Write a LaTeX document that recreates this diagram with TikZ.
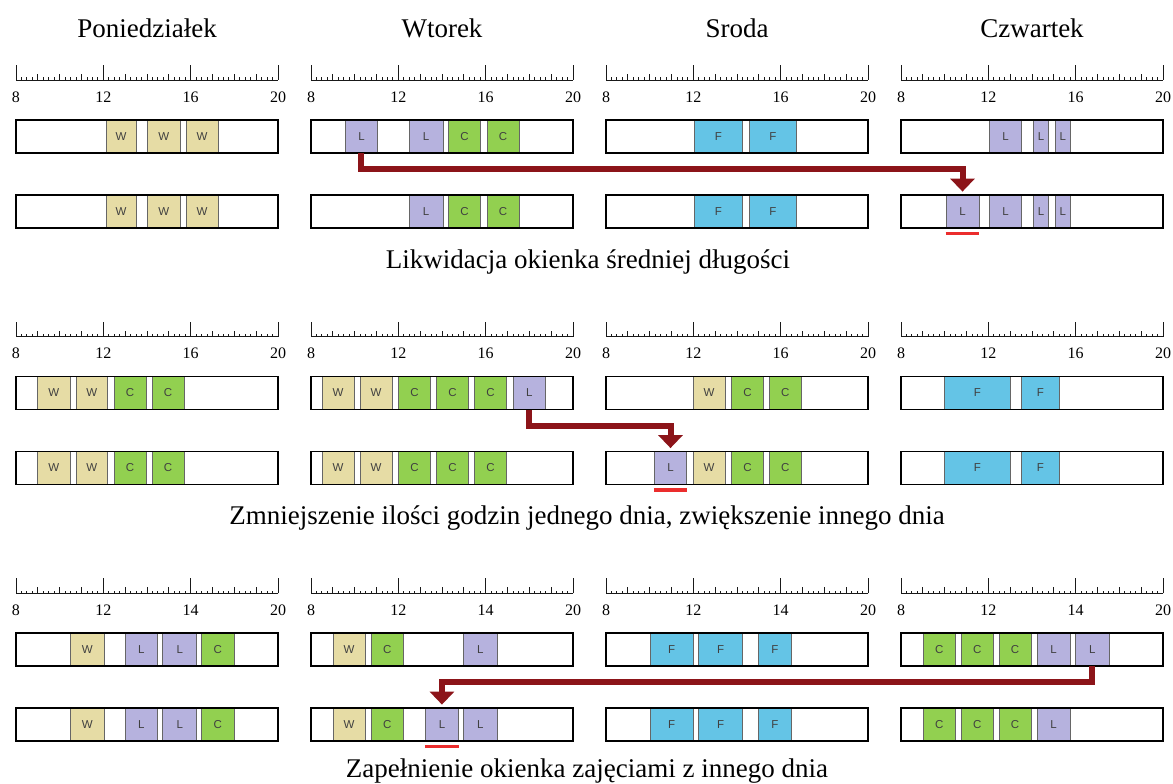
\documentclass[tikz,border=0pt]{standalone}
\usepackage{fontspec}
\setmainfont{Liberation Serif}
\setsansfont{Liberation Sans}
\usetikzlibrary{arrows.meta}
\definecolor{colW}{RGB}{230,220,165}
\definecolor{colL}{RGB}{182,178,222}
\definecolor{colC}{RGB}{146,208,80}
\definecolor{colF}{RGB}{100,196,230}
\definecolor{arrowred}{RGB}{140,20,25}
\definecolor{barred}{RGB}{235,45,45}
\tikzset{
  blk/.style={draw=black!60, line width=0.8pt, inner sep=0pt, minimum height=33pt,
    font=\sffamily\fontsize{11.5}{11.5}\selectfont, text=black!75},
  rowbox/.style={draw=black, line width=1.3pt},
  rul/.style={draw=black!90, line width=0.9pt},
  conn/.style={draw=arrowred, line width=6pt, -{Triangle[width=24pt,length=13pt]}, shorten >=3pt},
  underl/.style={draw=barred, line width=3.5pt},
  daytitle/.style={font=\fontsize{27}{30}\selectfont, anchor=base, inner sep=0pt},
  capt/.style={font=\fontsize{27}{30}\selectfont, anchor=base, inner sep=0pt},
  tlab/.style={font=\fontsize{16}{16}\selectfont, inner sep=0pt}
}
% #1 name prefix, #2 panel left, #3 row top, #4 list x1/x2/letter
\newcommand\drawrow[4]{%
  \foreach \xa/\xb/\lt [count=\k] in {#4} {
    \node[blk, fill=col\lt, minimum width={\xb-\xa}] (#1-\k) at ({#2+(\xa+\xb)/2},{#3+16.5}) {\lt};
  }
  \draw[rowbox] (#2,#3) rectangle ++(262,33);
}
% #1 name prefix, #2 left, #3 baseline, #4 third label
\newcommand\drawruler[4]{%
  \draw[rul] (#2,#3) -- ++(262,0);
  \foreach \i in {0,...,48} \draw[rul] ({#2+\i*262/48},#3) -- ++(0,-2.5);
  \foreach \i in {0,...,12} \draw[rul] ({#2+\i*262/12},#3) -- ++(0,-6);
  \foreach \i in {0,4,8,12} \draw[rul] ({#2+\i*262/12},#3) -- ++(0,-15);
  \node[tlab] (#1-l1) at (#2,#3+17) {8};
  \node[tlab] (#1-l2) at ({#2+4*262/12},#3+17) {12};
  \node[tlab] (#1-l3) at ({#2+8*262/12},#3+17) {#4};
  \node[tlab] (#1-l4) at ({#2+262},#3+17) {20};
}
\begin{document}
\begin{tikzpicture}[x=1pt,y=-1pt]
\fill[white] (0,0) rectangle (1173,784);
\useasboundingbox (0,0) rectangle (1173,784);

% day titles
\node[daytitle] (t1) at (147,38) {Poniedziałek};
\node[daytitle] (t2) at (442,38) {Wtorek};
\node[daytitle] (t3) at (737,38) {Sroda};
\node[daytitle] (t4) at (1032,38) {Czwartek};

% ===== Section 1 =====
\drawruler{s1ra}{16}{80}{16}
\drawruler{s1rb}{311}{80}{16}
\drawruler{s1rc}{606}{80}{16}
\drawruler{s1rd}{901}{80}{16}

\drawrow{s1a-r1}{16}{120}{90/120/W, 131.7/164/W, 170/202.3/W}
\drawrow{s1a-r2}{16}{195}{90/120/W, 131.7/164/W, 170/202.3/W}
\drawrow{s1b-r1}{311}{120}{34.3/66.6/L, 98.3/132/L, 137.6/169.3/C, 176/208/C}
\drawrow{s1b-r2}{311}{195}{98.3/132/L, 137.6/169.3/C, 176/208/C}
\drawrow{s1c-r1}{606}{120}{88.3/136.7/F, 143/190.7/F}
\drawrow{s1c-r2}{606}{195}{88.3/136.7/F, 143/190.7/F}
\drawrow{s1d-r1}{901}{120}{88.6/120.3/L, 132.6/147.6/L, 154.3/169.3/L}
\drawrow{s1d-r2}{901}{195}{45/78/L, 88.6/120.3/L, 132.6/147.6/L, 154.3/169.3/L}

\draw[conn] (s1b-r1-1.south) -- ([yshift=-16pt]s1b-r1-1.south) -| (s1d-r2-1.north);
\draw[underl] ([yshift=-5pt]s1d-r2-1.south west) -- ([yshift=-5pt]s1d-r2-1.south east);
\node[capt] (c1) at (588,268) {Likwidacja okienka średniej długości};

% ===== Section 2 =====
\drawruler{s2ra}{16}{336.5}{16}
\drawruler{s2rb}{311}{336.5}{16}
\drawruler{s2rc}{606}{336.5}{16}
\drawruler{s2rd}{901}{336.5}{16}

\drawrow{s2a-r1}{16}{376.5}{21.7/54/W, 60/91.7/W, 98.3/130/C, 136.3/168/C}
\drawrow{s2a-r2}{16}{451.5}{21.7/54/W, 60/91.7/W, 98.3/130/C, 136.3/168/C}
\drawrow{s2b-r1}{311}{376.5}{11/43.3/W, 49.3/81/W, 87.6/119.3/C, 125.3/157.6/C, 163.6/195.3/C, 202/234.6/L}
\drawrow{s2b-r2}{311}{451.5}{11/43.3/W, 49.3/81/W, 87.6/119.3/C, 125.3/157.6/C, 163.6/195.3/C}
\drawrow{s2c-r1}{606}{376.5}{87.3/119/W, 125.7/157.3/C, 163.3/195/C}
\drawrow{s2c-r2}{606}{451.5}{48.3/80.7/L, 87.3/119/W, 125.7/157.3/C, 163.3/195/C}
\drawrow{s2d-r1}{901}{376.5}{43.6/109.3/F, 120.3/158.6/F}
\drawrow{s2d-r2}{901}{451.5}{43.6/109.3/F, 120.3/158.6/F}

\draw[conn] (s2b-r1-6.south) -- ([yshift=-16pt]s2b-r1-6.south) -| (s2c-r2-1.north);
\draw[underl] ([yshift=-5pt]s2c-r2-1.south west) -- ([yshift=-5pt]s2c-r2-1.south east);
\node[capt] (c2) at (587,524.5) {Zmniejszenie ilości godzin jednego dnia, zwiększenie innego dnia};

% ===== Section 3 =====
\drawruler{s3ra}{16}{593}{14}
\drawruler{s3rb}{311}{593}{14}
\drawruler{s3rc}{606}{593}{14}
\drawruler{s3rd}{901}{593}{14}

\drawrow{s3a-r1}{16}{633}{54.7/88/W, 109/141.7/L, 146.7/180.7/L, 185/218.3/C}
\drawrow{s3a-r2}{16}{708}{54.7/88/W, 109/141.7/L, 146.7/180.7/L, 185/218.3/C}
\drawrow{s3b-r1}{311}{633}{22/54.3/W, 60.3/92/C, 152.6/186/L}
\drawrow{s3b-r2}{311}{708}{22/54.3/W, 60.3/92/C, 114.3/147.6/L, 152.6/186/L}
\drawrow{s3c-r1}{606}{633}{44/87.3/F, 92.7/136.7/F, 152.7/185/F}
\drawrow{s3c-r2}{606}{708}{44/87.3/F, 92.7/136.7/F, 152.7/185/F}
\drawrow{s3d-r1}{901}{633}{22/54.3/C, 60.3/92/C, 98/130/C, 136/169.3/L, 174.6/208/L}
\drawrow{s3d-r2}{901}{708}{22/54.3/C, 60.3/92/C, 98/130/C, 136/169.3/L}

\draw[conn] (s3d-r1-5.south) -- ([yshift=-16pt]s3d-r1-5.south) -| (s3b-r2-3.north);
\draw[underl] ([yshift=-5pt]s3b-r2-3.south west) -- ([yshift=-5pt]s3b-r2-3.south east);
\node[capt] (c3) at (587,777) {Zapełnienie okienka zajęciami z innego dnia};
\end{tikzpicture}
\end{document}
